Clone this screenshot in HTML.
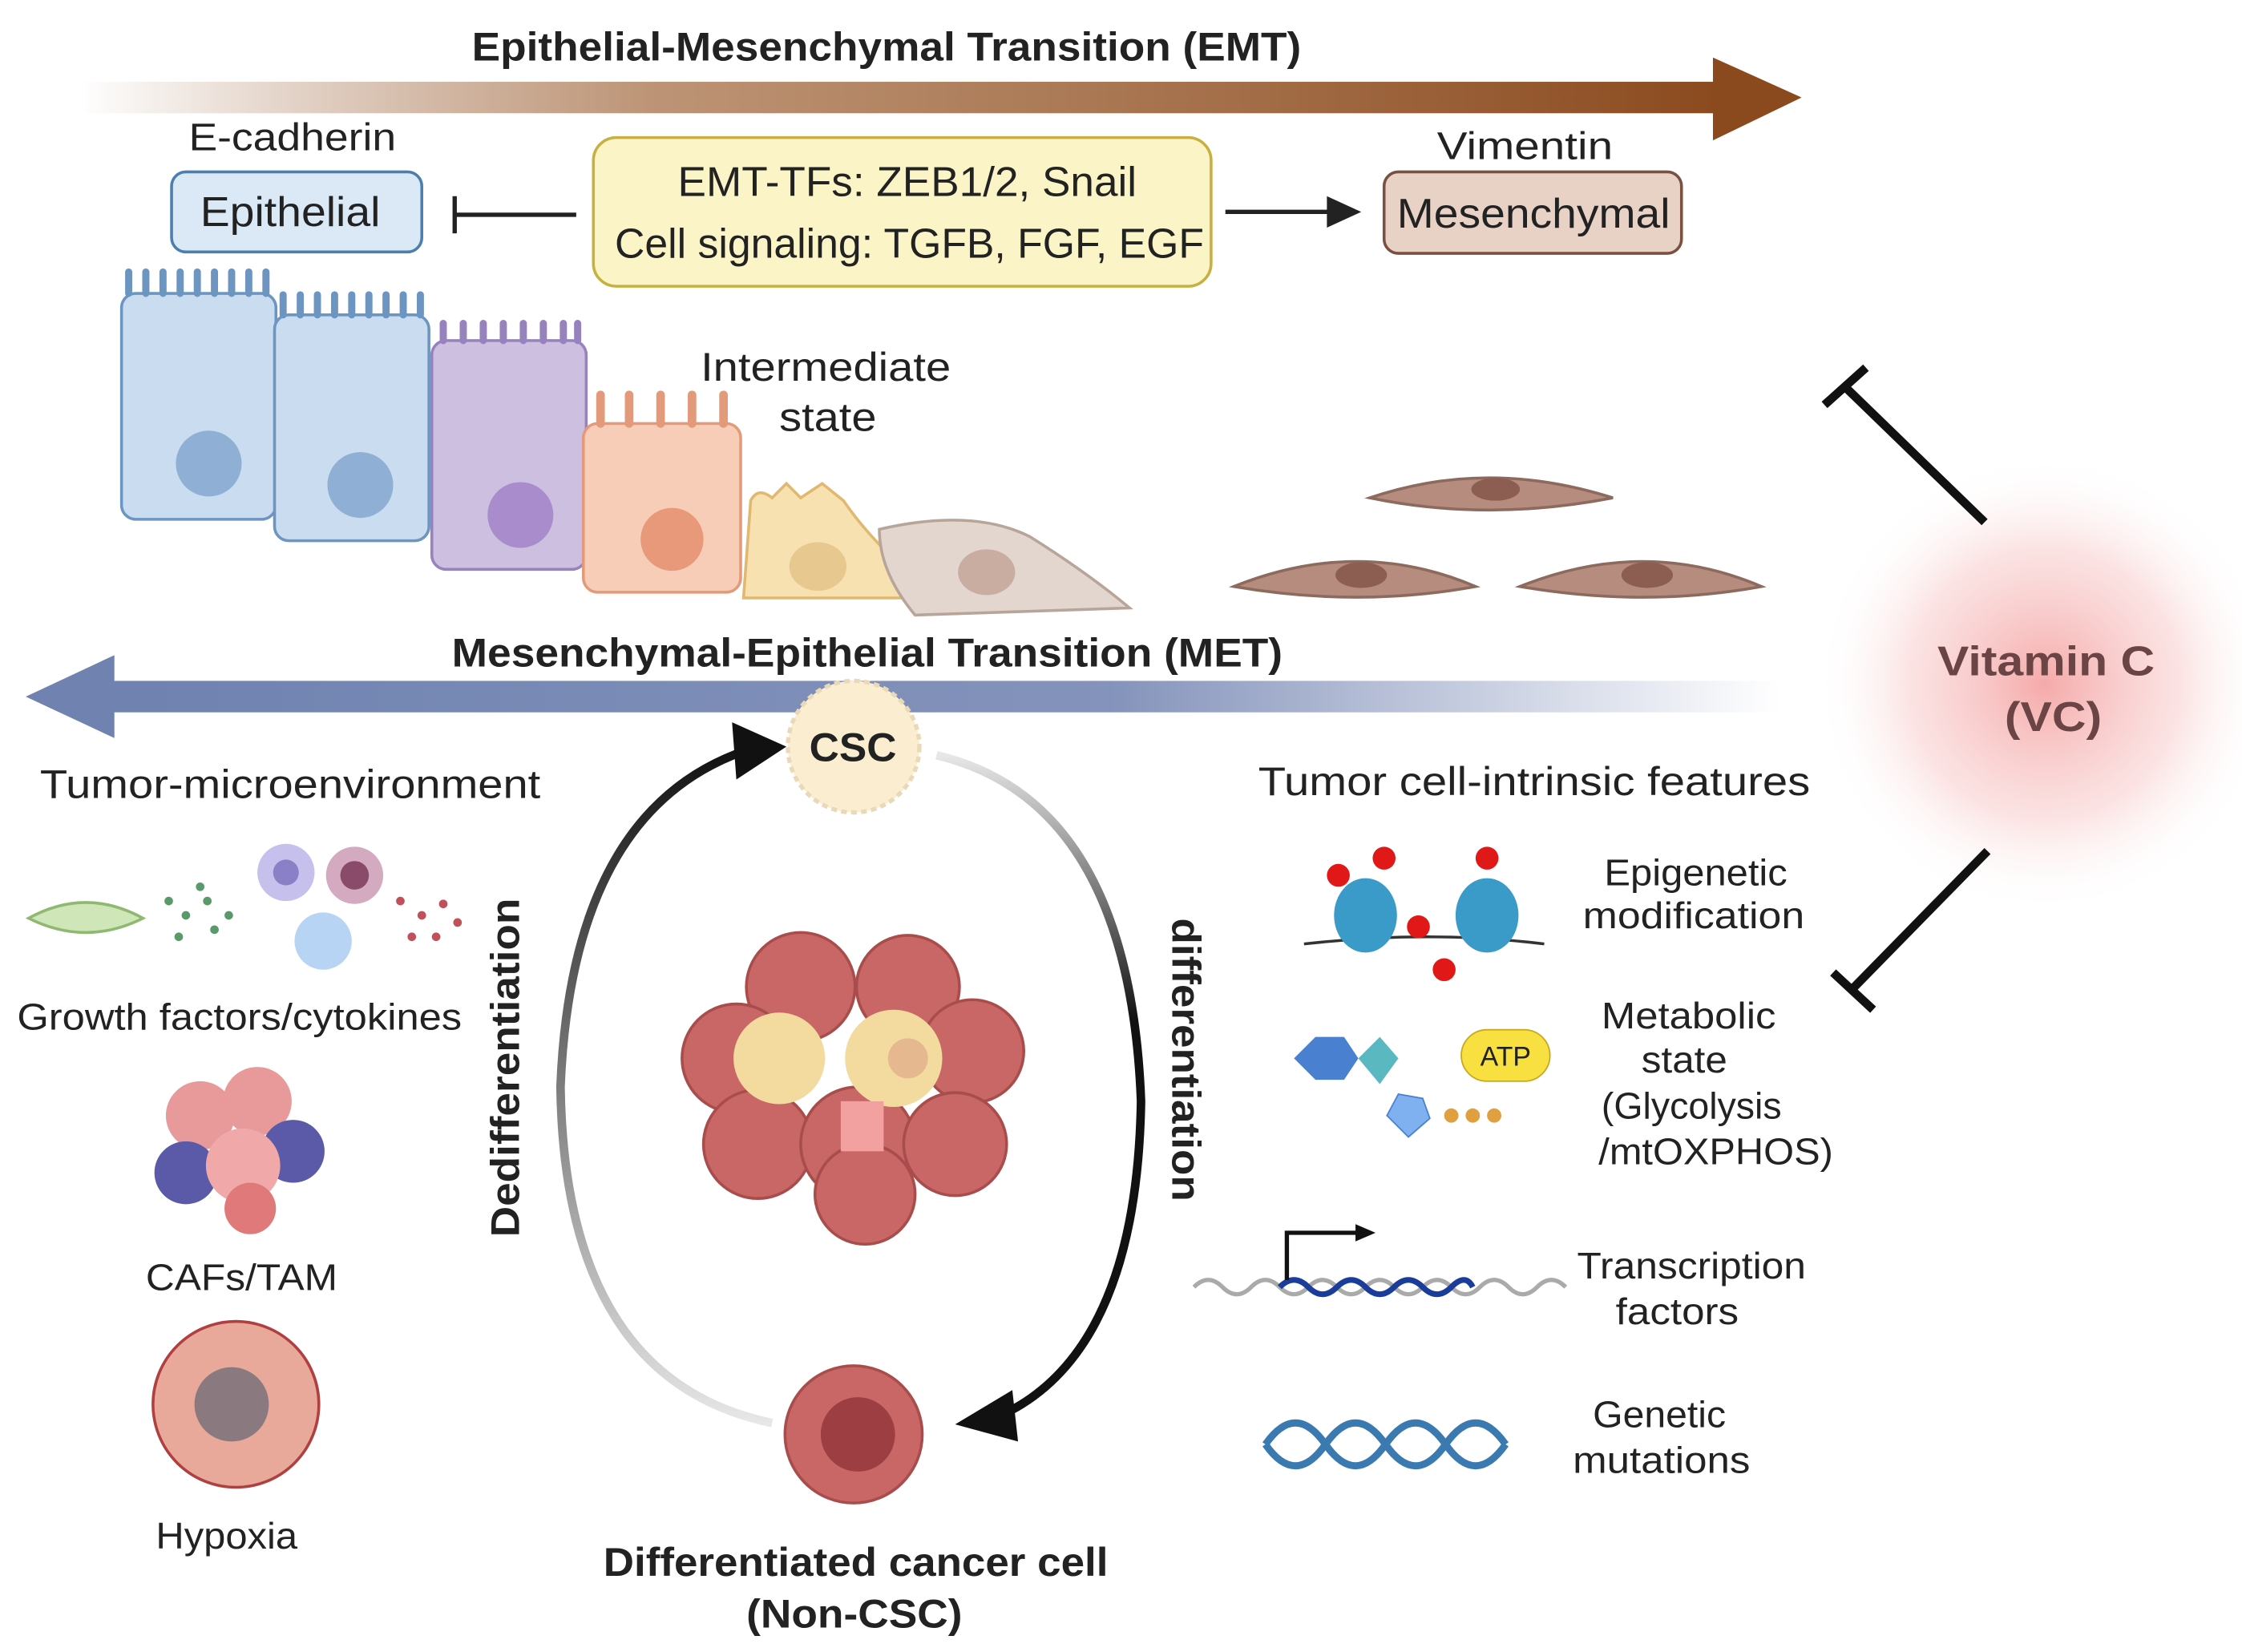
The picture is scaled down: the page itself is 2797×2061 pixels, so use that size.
<!DOCTYPE html>
<html><head><meta charset="utf-8"><style>
html,body{margin:0;padding:0;background:#fff;}
svg{display:block;}
text{font-family:"Liberation Sans",sans-serif;fill:#222;}
.b{font-weight:bold;}
</style></head><body>
<svg width="2797" height="2061" viewBox="0 0 1568 1155" xmlns="http://www.w3.org/2000/svg">
<defs>
<linearGradient id="emt" x1="0" x2="1"><stop offset="0" stop-color="#8b4a1e" stop-opacity="0"/><stop offset="0.35" stop-color="#a0663a" stop-opacity="0.7"/><stop offset="1" stop-color="#8b4a1e"/></linearGradient>
<linearGradient id="met" x1="0" x2="1"><stop offset="0" stop-color="#6f82b0"/><stop offset="0.6" stop-color="#8493bb"/><stop offset="1" stop-color="#8493bb" stop-opacity="0"/></linearGradient>
<radialGradient id="vc"><stop offset="0" stop-color="#f4a0a0" stop-opacity="0.9"/><stop offset="0.6" stop-color="#f8c8c8" stop-opacity="0.5"/><stop offset="1" stop-color="#fff" stop-opacity="0"/></radialGradient>
<linearGradient id="cl" x1="0" y1="0" x2="0" y2="1"><stop offset="0" stop-color="#111"/><stop offset="1" stop-color="#111" stop-opacity="0.1"/></linearGradient>
<linearGradient id="cr" x1="0" y1="0" x2="0" y2="1"><stop offset="0" stop-color="#111" stop-opacity="0.1"/><stop offset="0.4" stop-color="#111"/><stop offset="1" stop-color="#111"/></linearGradient>
</defs>
<rect x="55" y="57" width="1150" height="22" fill="url(#emt)"/>
<polygon points="1198,40 1260,68 1198,98" fill="#8b4a1e"/>
<text x="330" y="42" font-size="28" class="b" textLength="580" lengthAdjust="spacingAndGlyphs">Epithelial-Mesenchymal Transition (EMT)</text>
<text x="132" y="105" font-size="27" textLength="145" lengthAdjust="spacingAndGlyphs">E-cadherin</text>
<rect x="120" y="120" width="175" height="56" rx="10" fill="#dbe9f6" stroke="#4a7fb0" stroke-width="2"/>
<text x="140" y="158" font-size="29" textLength="126" lengthAdjust="spacingAndGlyphs">Epithelial</text>
<line x1="318" y1="150" x2="403" y2="150" stroke="#222" stroke-width="3"/>
<line x1="318" y1="137" x2="318" y2="163" stroke="#222" stroke-width="3"/>
<rect x="415" y="96" width="432" height="104" rx="16" fill="#fbf4c6" stroke="#c8b040" stroke-width="2"/>
<text x="474" y="137" font-size="29" textLength="321" lengthAdjust="spacingAndGlyphs">EMT-TFs: ZEB1/2, Snail</text>
<text x="430" y="180" font-size="29" textLength="412" lengthAdjust="spacingAndGlyphs">Cell signaling: TGFB, FGF, EGF</text>
<line x1="857" y1="148" x2="930" y2="148" stroke="#222" stroke-width="3"/>
<polygon points="928,137 952,148 928,159" fill="#222"/>
<text x="1005" y="111" font-size="27" textLength="123" lengthAdjust="spacingAndGlyphs">Vimentin</text>
<rect x="968" y="120" width="208" height="57" rx="10" fill="#e8d2c6" stroke="#7a5040" stroke-width="2"/>
<text x="977" y="159" font-size="29" textLength="191" lengthAdjust="spacingAndGlyphs">Mesenchymal</text>
<g stroke-width="2">
<rect x="85" y="205" width="108" height="158" rx="10" fill="#c9dcf0" stroke="#6c95c2"/>
<path d="M90 205 v-15 M102 205 v-15 M114 205 v-15 M126 205 v-15 M138 205 v-15 M150 205 v-15 M162 205 v-15 M174 205 v-15 M186 205 v-15" stroke="#6c95c2" stroke-width="5" stroke-linecap="round"/>
<circle cx="146" cy="324" r="23" fill="#8fb0d4"/>
<rect x="192" y="220" width="108" height="158" rx="10" fill="#c9dcf0" stroke="#6c95c2"/>
<path d="M198 220 v-14 M210 220 v-14 M222 220 v-14 M234 220 v-14 M246 220 v-14 M258 220 v-14 M270 220 v-14 M282 220 v-14 M294 220 v-14" stroke="#6c95c2" stroke-width="5" stroke-linecap="round"/>
<circle cx="252" cy="339" r="23" fill="#8fb0d4"/>
<rect x="302" y="238" width="108" height="160" rx="10" fill="#cdbfe0" stroke="#9682bd"/>
<path d="M310 238 v-12 M324 238 v-12 M338 238 v-12 M352 238 v-12 M366 238 v-12 M380 238 v-12 M394 238 v-12 M404 238 v-12" stroke="#9682bd" stroke-width="5" stroke-linecap="round"/>
<circle cx="364" cy="360" r="23" fill="#a88ccb"/>
<rect x="408" y="296" width="110" height="118" rx="10" fill="#f7cdb8" stroke="#e29a7a"/>
<path d="M420 296 v-20 M440 296 v-20 M462 296 v-20 M484 296 v-20 M506 296 v-20" stroke="#e29a7a" stroke-width="6" stroke-linecap="round"/>
<circle cx="470" cy="377" r="22" fill="#e8997a"/>
<path d="M520 418 L525 350 Q530 340 540 348 L550 338 L560 348 L575 338 L590 350 Q610 380 655 418 Z" fill="#f8e1b0" stroke="#e0b870"/>
<ellipse cx="572" cy="396" rx="20" ry="17" fill="#e7c88f"/>
<path d="M615 370 Q680 355 720 375 Q760 400 790 425 L640 430 Q615 400 615 370Z" fill="#e3d6cf" stroke="#b8a59a"/>
<ellipse cx="690" cy="400" rx="20" ry="16" fill="#c8ada0"/>
<path d="M958 348 Q1040 320 1128 348 Q1040 365 958 348Z" fill="#b58c7d" stroke="#8c6a5d"/>
<ellipse cx="1046" cy="342" rx="17" ry="8" fill="#8c5e52"/>
<path d="M863 410 Q950 375 1032 410 Q950 425 863 410Z" fill="#b58c7d" stroke="#8c6a5d"/>
<ellipse cx="952" cy="402" rx="18" ry="9" fill="#8c5e52"/>
<path d="M1063 410 Q1150 375 1232 410 Q1150 425 1063 410Z" fill="#b58c7d" stroke="#8c6a5d"/>
<ellipse cx="1152" cy="402" rx="18" ry="9" fill="#8c5e52"/>
</g>
<text x="490" y="266" font-size="28" textLength="175" lengthAdjust="spacingAndGlyphs">Intermediate</text>
<text x="545" y="301" font-size="28" textLength="68" lengthAdjust="spacingAndGlyphs">state</text>
<text x="316" y="466" font-size="28" class="b" textLength="581" lengthAdjust="spacingAndGlyphs">Mesenchymal-Epithelial Transition (MET)</text>
<rect x="75" y="476" width="1170" height="22" fill="url(#met)"/>
<polygon points="80,458 18,487 80,516" fill="#6f82b0"/>
<circle cx="1430" cy="478" r="160" fill="url(#vc)"/>
<text x="1355" y="472" font-size="29" class="b" textLength="152" lengthAdjust="spacingAndGlyphs" style="fill:#6b4545">Vitamin C</text>
<text x="1402" y="511" font-size="29" class="b" textLength="68" lengthAdjust="spacingAndGlyphs" style="fill:#6b4545">(VC)</text>
<line x1="1388" y1="365" x2="1290" y2="270" stroke="#111" stroke-width="6"/>
<line x1="1276" y1="283" x2="1305" y2="257" stroke="#111" stroke-width="6"/>
<line x1="1390" y1="595" x2="1295" y2="692" stroke="#111" stroke-width="6"/>
<line x1="1282" y1="680" x2="1310" y2="706" stroke="#111" stroke-width="6"/>
<path d="M530 522 Q400 560 392 760 Q395 965 540 995" fill="none" stroke="url(#cl)" stroke-width="6"/>
<polygon points="512,505 550,522 515,545" fill="#111"/>
<path d="M655 528 Q790 560 798 770 Q795 950 695 992" fill="none" stroke="url(#cr)" stroke-width="6"/>
<polygon points="708,972 668,996 712,1008" fill="#111"/>
<circle cx="597" cy="522" r="46" fill="#fbeed0" stroke="#e9d9b8" stroke-width="3" stroke-dasharray="4 3"/>
<text x="566" y="532" font-size="28" class="b" textLength="61" lengthAdjust="spacingAndGlyphs">CSC</text>
<text transform="translate(363,865) rotate(-90)" font-size="28" class="b" textLength="237" lengthAdjust="spacingAndGlyphs">Dedifferentiation</text>
<text transform="translate(820,642) rotate(90)" font-size="28" class="b" textLength="198" lengthAdjust="spacingAndGlyphs">differentiation</text>
<g fill="#c96767" stroke="#a84c4c" stroke-width="2">
<circle cx="560" cy="690" r="38"/><circle cx="635" cy="690" r="36"/><circle cx="680" cy="735" r="36"/>
<circle cx="515" cy="740" r="38"/><circle cx="530" cy="800" r="38"/><circle cx="600" cy="800" r="40"/>
<circle cx="668" cy="800" r="36"/><circle cx="605" cy="835" r="35"/>
</g>
<circle cx="545" cy="740" r="32" fill="#f3dba0"/><circle cx="625" cy="740" r="34" fill="#f3dba0"/>
<circle cx="635" cy="740" r="14" fill="#e6b890"/><rect x="588" y="770" width="30" height="35" fill="#f2a0a0"/>
<circle cx="597" cy="1003" r="48" fill="#c96767" stroke="#a84c4c" stroke-width="2"/>
<circle cx="600" cy="1003" r="26" fill="#9c3e42"/>
<text x="422" y="1102" font-size="28" class="b" textLength="353" lengthAdjust="spacingAndGlyphs">Differentiated cancer cell</text>
<text x="522" y="1138" font-size="28" class="b" textLength="151" lengthAdjust="spacingAndGlyphs">(Non-CSC)</text>
<text x="28" y="558" font-size="28" textLength="350" lengthAdjust="spacingAndGlyphs">Tumor-microenvironment</text>
<path d="M20 642 Q60 620 100 642 Q60 662 20 642Z" fill="#cfe6b8" stroke="#8fb870" stroke-width="2"/>
<g fill="#5a9a6a"><circle cx="118" cy="630" r="3"/><circle cx="130" cy="640" r="3"/><circle cx="145" cy="630" r="3"/><circle cx="125" cy="655" r="3"/><circle cx="150" cy="650" r="3"/><circle cx="160" cy="640" r="3"/><circle cx="140" cy="620" r="3"/></g>
<circle cx="200" cy="610" r="20" fill="#c6c0ec"/><circle cx="200" cy="610" r="9" fill="#8a80c8"/>
<circle cx="248" cy="612" r="20" fill="#d4aac0"/><circle cx="248" cy="612" r="10" fill="#8a4a6a"/>
<circle cx="226" cy="658" r="20" fill="#b8d4f4"/>
<g fill="#c0505a"><circle cx="280" cy="630" r="3"/><circle cx="295" cy="640" r="3"/><circle cx="310" cy="632" r="3"/><circle cx="288" cy="655" r="3"/><circle cx="305" cy="655" r="3"/><circle cx="320" cy="645" r="3"/></g>
<text x="12" y="720" font-size="26" textLength="311" lengthAdjust="spacingAndGlyphs">Growth factors/cytokines</text>
<g><circle cx="140" cy="780" r="24" fill="#e89a9a"/><circle cx="180" cy="770" r="24" fill="#e89a9a"/><circle cx="205" cy="805" r="22" fill="#5a5aa8"/><circle cx="130" cy="820" r="22" fill="#5a5aa8"/><circle cx="170" cy="815" r="26" fill="#f0a8a8"/><circle cx="175" cy="845" r="18" fill="#e07a7a"/></g>
<text x="102" y="902" font-size="26" textLength="134" lengthAdjust="spacingAndGlyphs">CAFs/TAM</text>
<circle cx="165" cy="982" r="58" fill="#e8a89a" stroke="#b04040" stroke-width="2"/>
<circle cx="162" cy="982" r="26" fill="#8a7a80"/>
<text x="109" y="1083" font-size="26" textLength="99" lengthAdjust="spacingAndGlyphs">Hypoxia</text>
<text x="880" y="556" font-size="28" textLength="386" lengthAdjust="spacingAndGlyphs">Tumor cell-intrinsic features</text>
<path d="M912 660 Q1000 650 1080 660" fill="none" stroke="#333" stroke-width="2"/>
<ellipse cx="955" cy="640" rx="22" ry="26" fill="#3a9ac8"/><ellipse cx="1040" cy="640" rx="22" ry="26" fill="#3a9ac8"/>
<g fill="#e01818"><circle cx="936" cy="612" r="8"/><circle cx="968" cy="600" r="8"/><circle cx="992" cy="648" r="8"/><circle cx="1010" cy="678" r="8"/><circle cx="1040" cy="600" r="8"/></g>
<text x="1122" y="619" font-size="26" textLength="128" lengthAdjust="spacingAndGlyphs">Epigenetic</text>
<text x="1107" y="649" font-size="26" textLength="155" lengthAdjust="spacingAndGlyphs">modification</text>
<polygon points="905,740 920,725 940,725 950,740 940,755 920,755" fill="#4a80d0"/>
<polygon points="950,740 965,725 978,740 965,758" fill="#5ab8c0"/>
<polygon points="985,795 970,780 978,765 995,768 1000,782" fill="#7fb0f0" stroke="#4a80d0"/>
<g fill="#e0a040"><circle cx="1015" cy="780" r="5"/><circle cx="1030" cy="780" r="5"/><circle cx="1045" cy="780" r="5"/></g>
<rect x="1022" y="720" width="62" height="36" rx="18" fill="#f8e040" stroke="#c8a820"/>
<text x="1053" y="745" font-size="19" text-anchor="middle">ATP</text>
<text x="1120" y="719" font-size="26" textLength="122" lengthAdjust="spacingAndGlyphs">Metabolic</text>
<text x="1148" y="750" font-size="26" textLength="60" lengthAdjust="spacingAndGlyphs">state</text>
<text x="1120" y="782" font-size="26" textLength="126" lengthAdjust="spacingAndGlyphs">(Glycolysis</text>
<text x="1118" y="814" font-size="26" textLength="164" lengthAdjust="spacingAndGlyphs">/mtOXPHOS)</text>
<path d="M835 900 q10 -10 20 0 t20 0 t20 0 t20 0 t20 0 t20 0 t20 0 t20 0 t20 0 t20 0 t20 0 t20 0 t20 0" fill="none" stroke="#aaa" stroke-width="3"/>
<path d="M895 900 q10 -10 20 0 t20 0 t20 0 t20 0 t20 0 t20 0 t15 0" fill="none" stroke="#1a3c9a" stroke-width="4"/>
<path d="M900 895 V862 H950" fill="none" stroke="#111" stroke-width="3"/><polygon points="948,856 962,862 948,868" fill="#111"/>
<text x="1103" y="894" font-size="26" textLength="160" lengthAdjust="spacingAndGlyphs">Transcription</text>
<text x="1130" y="926" font-size="26" textLength="86" lengthAdjust="spacingAndGlyphs">factors</text>
<path d="M885 1010 q21 -30 42 0 t42 0 t42 0 t42 0 M885 1010 q21 30 42 0 t42 0 t42 0 t42 0" fill="none" stroke="#3a7ab0" stroke-width="5"/>
<text x="1114" y="998" font-size="26" textLength="93" lengthAdjust="spacingAndGlyphs">Genetic</text>
<text x="1100" y="1030" font-size="26" textLength="124" lengthAdjust="spacingAndGlyphs">mutations</text>
</svg>
</body></html>
